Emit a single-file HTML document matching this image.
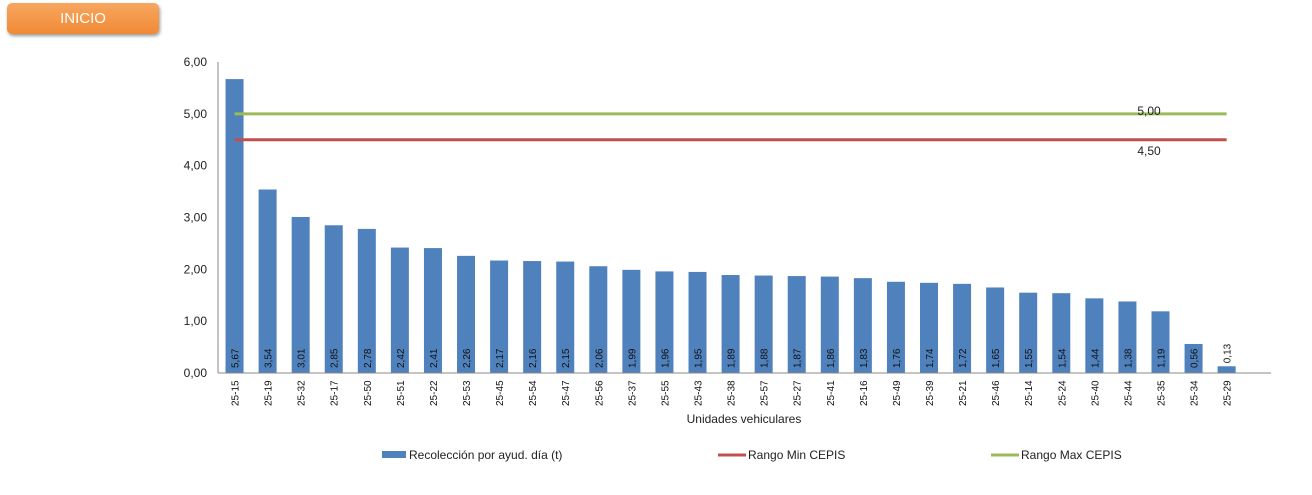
<!DOCTYPE html>
<html><head><meta charset="utf-8"><style>
body{margin:0;background:#fff;width:1312px;height:495px;overflow:hidden;font-family:"Liberation Sans",sans-serif}
#btn{position:absolute;left:7px;top:3px;width:152px;height:31px;border-radius:5px;background:linear-gradient(#f7a660,#f08a35);box-shadow:1px 2px 3px rgba(0,0,0,.4);color:#fff;font-size:15px;text-align:center;line-height:31px}
</style></head><body>
<div id="btn">INICIO</div>
<svg id="c" width="1312" height="495" style="position:absolute;left:0;top:0"></svg>
<script>
const categories=["25-15","25-19","25-32","25-17","25-50","25-51","25-22","25-53","25-45","25-54","25-47","25-56","25-37","25-55","25-43","25-38","25-57","25-27","25-41","25-16","25-49","25-39","25-21","25-46","25-14","25-24","25-40","25-44","25-35","25-34","25-29"];
const values=[5.67,3.54,3.01,2.85,2.78,2.42,2.41,2.26,2.17,2.16,2.15,2.06,1.99,1.96,1.95,1.89,1.88,1.87,1.86,1.83,1.76,1.74,1.72,1.65,1.55,1.54,1.44,1.38,1.19,0.56,0.13];
const yTicks=[0,1,2,3,4,5,6];
const minCEPIS=4.5, maxCEPIS=5.0;
const svg=document.getElementById('c');const NS='http://www.w3.org/2000/svg';
const X0=218,STEP=33.07,Y0=373,YS=(373-62)/6;
const x=i=>X0+STEP*(i+0.5), y=v=>Y0-v*YS;
const fmt=v=>v.toFixed(2).replace('.',',');
function mk(t,a,txt){const e=document.createElementNS(NS,t);for(const k in a)e.setAttribute(k,a[k]);if(txt!=null)e.textContent=txt;svg.appendChild(e);return e;}
yTicks.forEach(t=>{const e=mk('text',{x:207,y:y(t)+4,'text-anchor':'end','font-size':12,fill:'#222'},fmt(t));

});
values.forEach((v,i)=>{
const b=mk('rect',{x:x(i)-9,y:y(v),width:18,height:Y0-y(v),fill:'#4f81bd'});


const ly=v<0.4?y(v)-3:Y0-5;
const l=mk('text',{x:0,y:0,transform:`translate(${x(i)+4},${ly}) rotate(-90)`,'font-size':10,fill:'#111'},fmt(v));


const c=mk('text',{x:0,y:0,transform:`translate(${x(i)+4},${Y0+33}) rotate(-90)`,'font-size':10,fill:'#111'},categories[i]);

});
const ax=mk('line',{x1:X0,y1:62,x2:X0,y2:Y0,stroke:'#888'});
const bx=mk('line',{x1:X0,y1:Y0,x2:1271,y2:Y0,stroke:'#888'});
[[maxCEPIS,'#9bbb59','max-cepis-line',-3],[minCEPIS,'#c0504d','min-cepis-line',11]].forEach(([v,col,n,dy])=>{
const l=mk('line',{x1:x(0),y1:y(v),x2:x(values.length-1),y2:y(v),stroke:col,'stroke-width':3});


const t=mk('text',{x:1149,y:y(v)+dy+4,'text-anchor':'middle','font-size':12,fill:'#222'},fmt(v));

});
const xt=mk('text',{x:744,y:423,'text-anchor':'middle','font-size':12,fill:'#222'},'Unidades vehiculares');

[['rect',382,'#4f81bd','Recolección por ayud. día (t)','legend-recoleccion'],['line',718,'#c0504d','Rango Min CEPIS','legend-min-cepis'],['line',991,'#9bbb59','Rango Max CEPIS','legend-max-cepis']].forEach(([k,lx,col,txt,n])=>{
const s=k==='rect'?mk('rect',{x:lx,y:451,width:24,height:7,fill:col}):mk('line',{x1:lx,y1:455,x2:lx+28,y2:455,stroke:col,'stroke-width':3});


const t=mk('text',{x:lx+(k==='rect'?27:30),y:459,'font-size':12,fill:'#222'},txt);

});
</script></body></html>
